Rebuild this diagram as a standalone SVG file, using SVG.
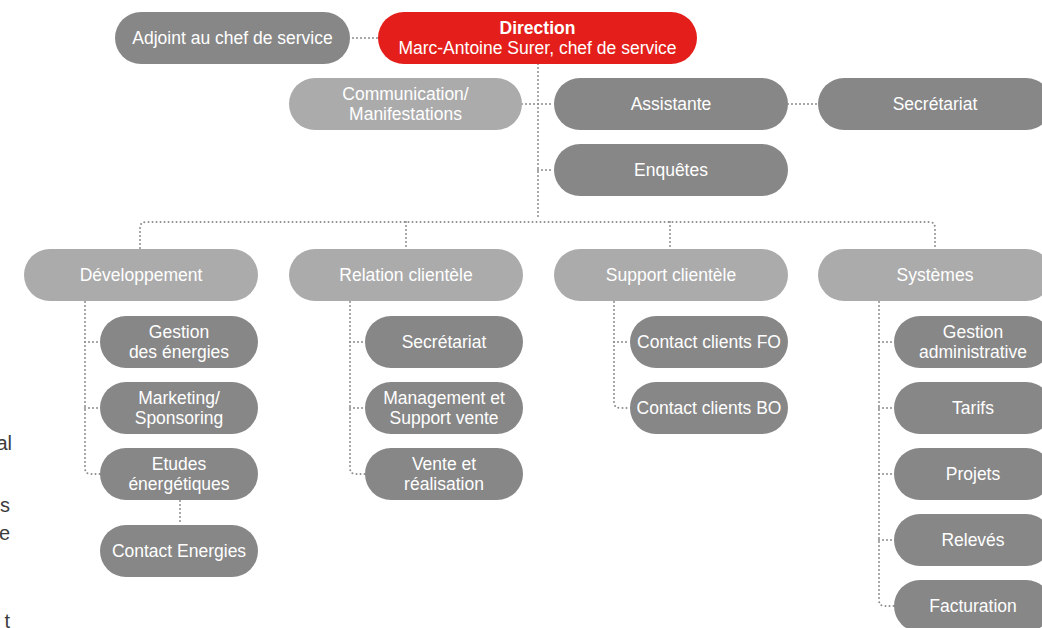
<svg xmlns="http://www.w3.org/2000/svg" width="1042" height="628" viewBox="0 0 1042 628">
<style>
.d{fill:#878787}
.l{fill:#ababab}
.r{fill:#e41f1b}
.t{font-family:"Liberation Sans",Arial,sans-serif;font-size:17.5px;fill:#fff;text-anchor:middle}
.b{font-weight:bold}
.c{fill:none;stroke:#8c8c8c;stroke-width:2;stroke-dasharray:0 4;stroke-linecap:round}
.f{font-family:"Liberation Sans",Arial,sans-serif;font-size:20px;fill:#3c3c3c;text-anchor:end}
</style>
<rect width="1042" height="628" fill="#fff"/>
<g id="connectors">
<path class="c" d="M353 38H378"/>
<path class="c" d="M538 64V220"/>
<path class="c" d="M522 104H554"/>
<path class="c" d="M538 170H554"/>
<path class="c" d="M788 104H818"/>
<path class="c" d="M140 248V228Q140 222 146 222H929Q935 222 935 228V248"/>
<path class="c" d="M406 222V248"/>
<path class="c" d="M670 222V248"/>
<path class="c" d="M85 302V468Q85 474 91 474H100"/>
<path class="c" d="M85 342H100"/>
<path class="c" d="M85 408H100"/>
<path class="c" d="M180 501V524"/>
<path class="c" d="M350 302V468Q350 474 356 474H365"/>
<path class="c" d="M350 342H365"/>
<path class="c" d="M350 408H365"/>
<path class="c" d="M614 302V402Q614 408 620 408H630"/>
<path class="c" d="M614 342H630"/>
<path class="c" d="M879 302V600Q879 606 885 606H894"/>
<path class="c" d="M879 342H894"/>
<path class="c" d="M879 408H894"/>
<path class="c" d="M879 474H894"/>
<path class="c" d="M879 540H894"/>
</g>
<g id="adjoint"><rect class="d" x="115" y="12" width="235" height="52" rx="26"/><text class="t" x="232.5" y="44">Adjoint au chef de service</text></g>
<g id="direction"><rect class="r" x="378" y="12" width="319" height="52" rx="26"/><text class="t b" x="537.5" y="34">Direction</text><text class="t" x="537.5" y="54">Marc-Antoine Surer, chef de service</text></g>
<g id="communication"><rect class="l" x="289" y="78" width="233" height="52" rx="26"/><text class="t" x="405.5" y="100">Communication/</text><text class="t" x="405.5" y="120">Manifestations</text></g>
<g id="assistante"><rect class="d" x="554" y="78" width="234" height="52" rx="26"/><text class="t" x="671" y="110">Assistante</text></g>
<g id="secretariat-dir"><rect class="d" x="818" y="78" width="234" height="52" rx="26"/><text class="t" x="935" y="110">Secrétariat</text></g>
<g id="enquetes"><rect class="d" x="554" y="144" width="234" height="52" rx="26"/><text class="t" x="671" y="176">Enquêtes</text></g>
<g id="developpement"><rect class="l" x="24" y="249" width="234" height="52" rx="26"/><text class="t" x="141" y="281">Développement</text></g>
<g id="relation"><rect class="l" x="289" y="249" width="234" height="52" rx="26"/><text class="t" x="406" y="281">Relation clientèle</text></g>
<g id="support"><rect class="l" x="554" y="249" width="234" height="52" rx="26"/><text class="t" x="671" y="281">Support clientèle</text></g>
<g id="systemes"><rect class="l" x="818" y="249" width="234" height="52" rx="26"/><text class="t" x="935" y="281">Systèmes</text></g>
<g id="gestion-energies"><rect class="d" x="100" y="316" width="158" height="52" rx="26"/><text class="t" x="179" y="338">Gestion</text><text class="t" x="179" y="358">des énergies</text></g>
<g id="marketing"><rect class="d" x="100" y="382" width="158" height="52" rx="26"/><text class="t" x="179" y="404">Marketing/</text><text class="t" x="179" y="424">Sponsoring</text></g>
<g id="etudes"><rect class="d" x="100" y="448" width="158" height="52" rx="26"/><text class="t" x="179" y="470">Etudes</text><text class="t" x="179" y="490">énergétiques</text></g>
<g id="contact-energies"><rect class="d" x="100" y="525" width="158" height="52" rx="26"/><text class="t" x="179" y="557">Contact Energies</text></g>
<g id="secretariat-rel"><rect class="d" x="365" y="316" width="158" height="52" rx="26"/><text class="t" x="444" y="348">Secrétariat</text></g>
<g id="management"><rect class="d" x="365" y="382" width="158" height="52" rx="26"/><text class="t" x="444" y="404">Management et</text><text class="t" x="444" y="424">Support vente</text></g>
<g id="vente"><rect class="d" x="365" y="448" width="158" height="52" rx="26"/><text class="t" x="444" y="470">Vente et</text><text class="t" x="444" y="490">réalisation</text></g>
<g id="contact-fo"><rect class="d" x="630" y="316" width="158" height="52" rx="26"/><text class="t" x="709" y="348">Contact clients FO</text></g>
<g id="contact-bo"><rect class="d" x="630" y="382" width="158" height="52" rx="26"/><text class="t" x="709" y="414">Contact clients BO</text></g>
<g id="gestion-admin"><rect class="d" x="894" y="316" width="158" height="52" rx="26"/><text class="t" x="973" y="338">Gestion</text><text class="t" x="973" y="358">administrative</text></g>
<g id="tarifs"><rect class="d" x="894" y="382" width="158" height="52" rx="26"/><text class="t" x="973" y="414">Tarifs</text></g>
<g id="projets"><rect class="d" x="894" y="448" width="158" height="52" rx="26"/><text class="t" x="973" y="480">Projets</text></g>
<g id="releves"><rect class="d" x="894" y="514" width="158" height="52" rx="26"/><text class="t" x="973" y="546">Relevés</text></g>
<g id="facturation"><rect class="d" x="894" y="580" width="158" height="52" rx="26"/><text class="t" x="973" y="612">Facturation</text></g>
<g id="margin-text">
<text class="f" x="12" y="450">al</text>
<text class="f" x="10" y="512">s</text>
<text class="f" x="10" y="540">e</text>
<text class="f" x="10" y="628">t</text>
</g>
</svg>
